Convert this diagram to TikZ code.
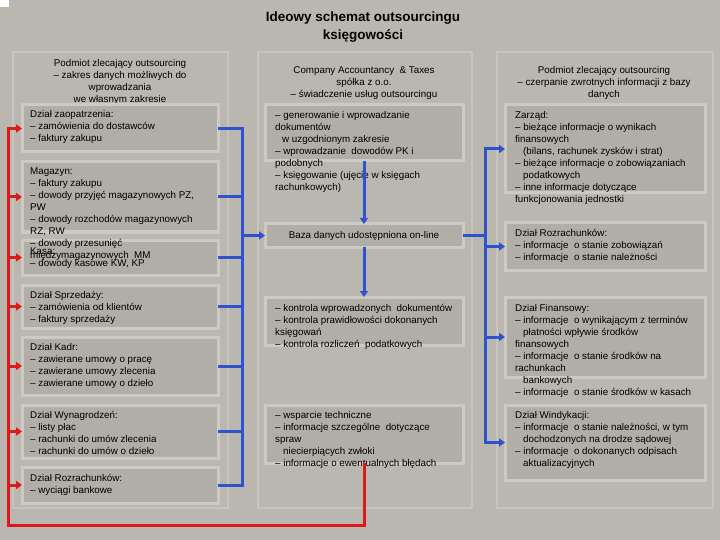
\documentclass[tikz,border=0pt]{standalone}
\usepackage{fontspec}
\setmainfont{Liberation Sans}
\usetikzlibrary{arrows.meta,fit}
\definecolor{bgc}{HTML}{BAB6B0}
\definecolor{panelc}{HTML}{C7C3BD}
\definecolor{boxc}{HTML}{CDC9C3}
\definecolor{boxfill}{HTML}{B1ADA7}
\definecolor{myred}{HTML}{DC1A1A}
\definecolor{myblue}{HTML}{2F52CF}
\newcommand{\bodyfs}{\fontsize{9.8}{12}\selectfont}
\newcommand{\titlefs}{\fontsize{13.5}{18}\selectfont\bfseries}
\tikzset{
  panel/.style={draw=panelc, line width=2.5pt},
  box/.style={draw=boxc, line width=3pt, fill=boxfill, inner sep=0pt, outer sep=0pt},
  txt/.style={anchor=north west, inner sep=0pt, align=left, font=\bodyfs},
  hdr/.style={anchor=north, inner sep=0pt, align=center, font=\bodyfs},
  redl/.style={draw=myred, line width=3pt},
  bluel/.style={draw=myblue, line width=3pt},
  tip/.style={-{Triangle[length=6pt,width=8pt]}}
}
\begin{document}
\begin{tikzpicture}[x=1pt,y=-1pt]
\fill[bgc] (0,0) rectangle (720,540);
\useasboundingbox (0,0) rectangle (720,540);
\fill[white] (0,0) rectangle (9,7);

% title
\node[anchor=north, inner sep=0pt, align=center, font=\titlefs] (title) at (363,9)
  {\strut Ideowy schemat outsourcingu\\księgowości};

% panels
\draw[panel] (13,52) rectangle (228,508);
\draw[panel] (258,52) rectangle (472,508);
\draw[panel] (497,52) rectangle (713,508);

% headers
\node[hdr] (hL) at (120,58) {\strut Podmiot zlecający outsourcing\\– zakres danych możliwych do\\wprowadzania\\we własnym zakresie};
\node[hdr] (hM) at (364,65) {\strut Company Accountancy~~\& Taxes\\spółka z o.o.\\– świadczenie usług outsourcingu};
\node[hdr] (hR) at (604,65) {\strut Podmiot zlecający outsourcing\\– czerpanie zwrotnych informacji z bazy\\danych};

% left boxes
\node[box, fit={(22,105) (218,152)}] (zao) {};
\node[box, fit={(22,162) (218,232)}] (mag) {};
\node[box, fit={(22,240) (218,275)}] (kasa) {};
\node[box, fit={(22,285) (218,328)}] (sprz) {};
\node[box, fit={(22,337) (218,395)}] (kadr) {};
\node[box, fit={(22,405) (218,458)}] (wyn) {};
\node[box, fit={(22,467) (218,503)}] (rozL) {};

% middle boxes
\node[box, fit={(265,105) (463,161)}] (gen) {};
\node[box, fit={(265,224) (463,247)}] (baza) {};
\node[box, fit={(265,297) (463,345)}] (kon) {};
\node[box, fit={(265,405) (463,463)}] (wsp) {};

% right boxes
\node[box, fit={(505,105) (705,193)}] (zar) {};
\node[box, fit={(505,223) (705,270)}] (rozR) {};
\node[box, fit={(505,297) (705,377)}] (fin) {};
\node[box, fit={(505,405) (705,480)}] (win) {};

% left texts
\node[txt] (zaoT) at (30,109) {\strut Dział zaopatrzenia:\\– zamówienia do dostawców\\– faktury zakupu};
\node[txt] (magT) at (30,166) {\strut Magazyn:\\– faktury zakupu\\– dowody przyjęć magazynowych PZ,\\PW\\– dowody rozchodów magazynowych\\RZ, RW\\– dowody przesunięć\\międzymagazynowych~~MM};
\node[txt] (kasaT) at (30,246) {\strut Kasa:\\– dowody kasowe KW, KP};
\node[txt] (sprzT) at (30,290) {\strut Dział Sprzedaży:\\– zamówienia od klientów\\– faktury sprzedaży};
\node[txt] (kadrT) at (30,342) {\strut Dział Kadr:\\– zawierane umowy o pracę\\– zawierane umowy zlecenia\\– zawierane umowy o dzieło};
\node[txt] (wynT) at (30,410) {\strut Dział Wynagrodzeń:\\– listy płac\\– rachunki do umów zlecenia\\– rachunki do umów o dzieło};
\node[txt] (rozLT) at (30,473) {\strut Dział Rozrachunków:\\– wyciągi bankowe};

% middle texts
\node[txt] (genT) at (275,110) {\strut – generowanie i wprowadzanie\\dokumentów\\\hspace*{7pt}w uzgodnionym zakresie\\– wprowadzanie~~dowodów PK i\\podobnych\\– księgowanie (ujęcie w księgach\\rachunkowych)};
\node[inner sep=0pt, font=\bodyfs] (bazaT) at (baza.center) {Baza danych udostępniona on-line};
\node[txt] (konT) at (275,303) {\strut – kontrola wprowadzonych~~dokumentów\\– kontrola prawidłowości dokonanych\\księgowań\\– kontrola rozliczeń~~podatkowych};
\node[txt] (wspT) at (275,410) {\strut – wsparcie techniczne\\– informacje szczególne~~dotyczące\\spraw\\\hspace*{8pt}niecierpiących zwłoki\\– informacje o ewentualnych błędach};

% right texts
\node[txt] (zarT) at (515,110) {\strut Zarząd:\\– bieżące informacje o wynikach\\finansowych\\\hspace*{8pt}(bilans, rachunek zysków i strat)\\– bieżące informacje o zobowiązaniach\\\hspace*{8pt}podatkowych\\– inne informacje dotyczące\\funkcjonowania jednostki};
\node[txt] (rozRT) at (515,228) {\strut Dział Rozrachunków:\\– informacje~~o stanie zobowiązań\\– informacje~~o stanie należności};
\node[txt] (finT) at (515,303) {\strut Dział Finansowy:\\– informacje~~o wynikającym z terminów\\\hspace*{8pt}płatności wpływie środków\\finansowych\\– informacje~~o stanie środków na\\rachunkach\\\hspace*{8pt}bankowych\\– informacje~~o stanie środków w kasach};
\node[txt] (winT) at (515,410) {\strut Dział Windykacji:\\– informacje~~o stanie należności, w tym\\\hspace*{8pt}dochodzonych na drodze sądowej\\– informacje~~o dokonanych odpisach\\\hspace*{8pt}aktualizacyjnych};

% bus coordinates
\coordinate (rc) at (8,525);
\coordinate (lb) at (242,0);
\coordinate (rb) at (485,0);

% red feedback loop
\draw[redl, tip] (wsp.south) |- (rc) -- (zao.west -| rc) -- (zao.west);
\foreach \b in {mag,kasa,sprz,kadr,wyn,rozL}
  \draw[redl, tip] (\b.west -| rc) -- (\b.west);

% blue left bus
\draw[bluel, line cap=rect] (zao.east -| lb) -- (rozL.east -| lb);
\foreach \b in {zao,mag,kasa,sprz,kadr,wyn,rozL}
  \draw[bluel] (\b.east) -- (\b.east -| lb);
\draw[bluel, tip] (baza.west -| lb) -- (baza.west);

% middle vertical flow
\draw[bluel, tip] (gen.south) -- (baza.north);
\draw[bluel, tip] (baza.south) -- (kon.north);

% blue right bus
\draw[bluel] (baza.east) -- (baza.east -| rb);
\draw[bluel, line cap=rect] (zar.west -| rb) -- (win.west -| rb);
\foreach \b in {zar,rozR,fin,win}
  \draw[bluel, tip] (\b.west -| rb) -- (\b.west);
\end{tikzpicture}
\end{document}
